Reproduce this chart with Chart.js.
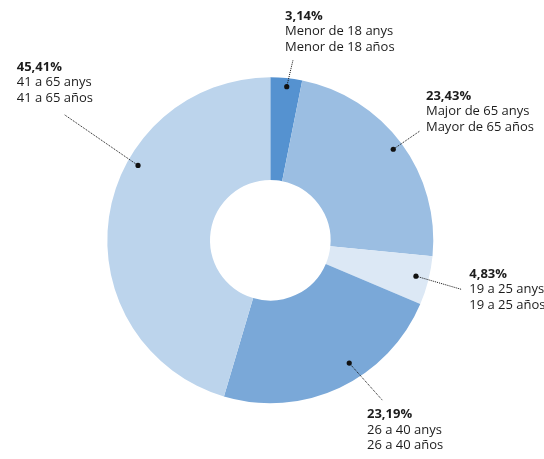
<!DOCTYPE html>
<html>
<head>
<meta charset="utf-8">
<script src="https://cdn.jsdelivr.net/npm/chart.js@4/dist/chart.umd.min.js"></script>
<style>
  html, body { margin: 0; padding: 0; background: #fff; }
  #wrap { width: 544px; height: 459px; position: relative; }
</style>
</head>
<body>
<div id="wrap"><canvas id="myChart"></canvas></div>
<script>
'use strict';

// age groups, clockwise from the top
const ageCat = ['Menor de 18 anys', 'Major de 65 anys', '19 a 25 anys', '26 a 40 anys', '41 a 65 anys'];
const ageEs = ['Menor de 18 años', 'Mayor de 65 años', '19 a 25 años', '26 a 40 años', '41 a 65 años'];
const sharePct = [3.14, 23.43, 4.83, 23.19, 45.41];
const sliceColors = ['#5592d0', '#9bbee2', '#dce8f5', '#7aa8d8', '#bcd4ec'];

// where the callout dot sits inside each slice (fraction of the slice angle, px in from the rim)
const dotFrac = [0.54, 0.5, 0.47, 0.41, 0.63];
const dotInset = [8.5, 10, 13, 17, 11];
// leader line end, relative to the dot
const leadDx = [6.3, 26.7, 45.7, 33.4, -74];
const leadDy = [-26.7, -18.3, 13.3, 37.4, -51];
// text block (left, first line centre), relative to the leader end
const textDx = [-8, 6, 7.6, -15.7, -47.3];
const textDy = [-44, -34.7, -15.3, 13.8, -47.5];

function fmtPct(v) {
  return v.toFixed(2).replace('.', ',') + '%';
}

const calloutPlugin = {
  id: 'callouts',
  afterDatasetsDraw(chart) {
    const ctx = chart.ctx;
    const arcs = chart.getDatasetMeta(0).data;
    ctx.save();
    for (let i = 0; i < arcs.length; i++) {
      const a = arcs[i];
      const ang = a.startAngle + (a.endAngle - a.startAngle) * dotFrac[i];
      const r = a.outerRadius - dotInset[i];
      const px = a.x + Math.cos(ang) * r;
      const py = a.y + Math.sin(ang) * r;
      const ex = px + leadDx[i];
      const ey = py + leadDy[i];

      ctx.strokeStyle = '#111';
      ctx.lineWidth = 1;
      ctx.setLineDash([1, 1]);
      ctx.beginPath();
      ctx.moveTo(px, py);
      ctx.lineTo(ex, ey);
      ctx.stroke();
      ctx.setLineDash([]);

      ctx.fillStyle = '#111';
      ctx.beginPath();
      ctx.arc(px, py, 2.6, 0, Math.PI * 2);
      ctx.fill();

      const tx = ex + textDx[i];
      const ty = ey + textDy[i];
      ctx.textAlign = 'left';
      ctx.textBaseline = 'middle';
      ctx.fillStyle = '#1c1c1c';
      ctx.font = 'bold 13px "Open Sans"';
      ctx.fillText(fmtPct(sharePct[i]), tx, ty);
      ctx.font = '13px "Open Sans"';
      ctx.fillText(ageCat[i], tx, ty + 15.5);
      ctx.fillText(ageEs[i], tx, ty + 31);
    }
    ctx.restore();
  }
};

const data = {
  labels: ageCat,
  datasets: [{
    data: sharePct,
    backgroundColor: sliceColors,
    borderWidth: 0
  }]
};

const config = {
  type: 'doughnut',
  data: data,
  options: {
    responsive: true,
    maintainAspectRatio: false,
    animation: false,
    cutout: '37%',
    layout: {
      padding: { left: 107.3, right: 110.7, top: 77.3, bottom: 55.7 }
    },
    plugins: {
      legend: { display: false },
      tooltip: { enabled: false }
    }
  },
  plugins: [calloutPlugin]
};

let canvasChart = document.getElementById('myChart');
const myChart = new Chart(canvasChart, config);
</script>
</body>
</html>
